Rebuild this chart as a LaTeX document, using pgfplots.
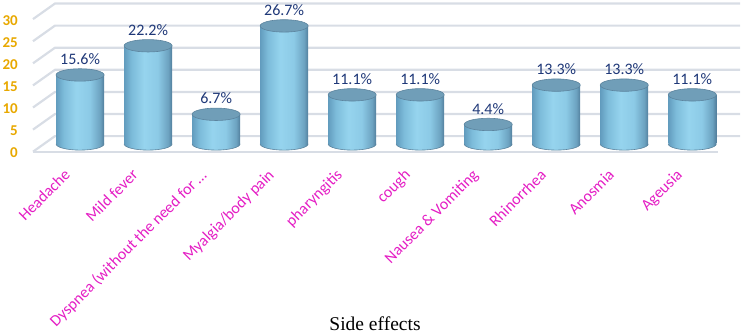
\documentclass[border=0pt]{standalone}
\usepackage{fontspec}
\setmainfont{Carlito}
\newfontfamily\timesfont{Liberation Serif}
\usepackage{pgfplots}
\usepackage{pgfplotstable}
\pgfplotsset{compat=1.18}

\definecolor{gridc}{RGB}{216,221,229}
\definecolor{tickc}{RGB}{232,168,0}
\definecolor{labc}{RGB}{31,56,120}
\definecolor{magc}{RGB}{228,30,196}
\definecolor{cylA}{RGB}{98,156,190}
\definecolor{cylB}{RGB}{125,188,218}
\definecolor{cylC}{RGB}{150,212,238}
\definecolor{cylD}{RGB}{140,202,230}
\definecolor{cylE}{RGB}{108,162,192}
\definecolor{cylF}{RGB}{82,126,156}
\definecolor{cyltopc}{RGB}{112,158,184}
\definecolor{cyledge}{RGB}{92,132,158}

% side shading of the cylinders (left to right)
\pgfdeclarehorizontalshading{cylshade}{100bp}{color(0bp)=(cylA); color(25bp)=(cylA); color(33bp)=(cylB); color(46bp)=(cylC); color(60bp)=(cylD); color(71bp)=(cylE); color(75bp)=(cylF); color(100bp)=(cylF)}

% top cap of a cylinder
\pgfdeclareplotmark{cyltop}{%
  \pgfsetfillcolor{cyltopc}\pgfsetstrokecolor{cyledge}\pgfsetlinewidth{0.6pt}%
  \pgfpathellipse{\pgfpointorigin}{\pgfqpoint{24pt}{0pt}}{\pgfqpoint{0pt}{6.2pt}}%
  \pgfusepathqfillstroke}

% rounded base of a cylinder
\pgfdeclareplotmark{cylbottom}{%
  \pgfpathmoveto{\pgfqpoint{-24pt}{0pt}}%
  \pgfpatharc{180}{360}{24pt and 6.2pt}%
  \pgfpathclose
  \pgfshadepath{cylshade}{0}%
  \pgfusepath{discard}%
  \pgfsetstrokecolor{cyledge}\pgfsetlinewidth{0.6pt}%
  \pgfpathmoveto{\pgfqpoint{-24pt}{0pt}}%
  \pgfpatharc{180}{360}{24pt and 6.2pt}%
  \pgfusepathqstroke}

\pgfplotstableread{
x y base
0 15.6 0
1 22.2 0
2 6.7  0
3 26.7 0
4 11.1 0
5 11.1 0
6 4.4  0
7 13.3 0
8 13.3 0
9 11.1 0
}\sidetab

\begin{document}
\begin{tikzpicture}
\useasboundingbox (-44pt,-191.1pt) rectangle (700pt,143.9pt);
\begin{axis}[
  at={(0,0)}, anchor=south west,
  scale only axis, width=685pt, height=132.6pt,
  xmin=-0.53, xmax=9.54, ymin=0, ymax=30,
  clip=false,
  axis line style={draw=none},
  major tick length=0pt,
  tick style={draw=none},
  ytick={0,5,...,30},
  xtick={0,...,9},
  xticklabels={Headache, Mild fever, Dyspnea (without the need for …, Myalgia/body pain, pharyngitis, cough, Nausea \& Vomiting, Rhinorrhea, Anosmia, Ageusia},
  /pgf/number format/assume math mode=true,
  yticklabel style={font=\fontsize{15}{15}\selectfont\bfseries, text=tickc, anchor=east, inner sep=0pt, xshift=-26pt, yshift=-9pt},
  xticklabel style={font=\fontsize{16}{17}\selectfont, text=magc, inner sep=0pt, xshift=-17pt, yshift=-24pt, rotate=45, anchor=north east},
  xlabel={Side effects},
  xlabel style={font=\timesfont\fontsize{19.5}{20}\selectfont, at={(axis description cs:0.5,0)}, anchor=base, inner sep=0pt, xshift=-11.5pt, yshift=-187pt},
]
% side wall and back wall grid
\pgfplotsinvokeforeach{0,5,10,15,20,25,30}{
  \draw[gridc, line width=2.2pt, line join=round]
    ([shift={(-11pt,-7.8pt)}]axis cs:-0.53,#1) --
    ([shift={(11pt,7.8pt)}]axis cs:-0.53,#1) --
    ([shift={(11pt,7.8pt)}]axis cs:9.54,#1);
}
% front edge of the floor
\draw[gridc, line width=2.2pt]
  ([shift={(-11pt,-7.8pt)}]axis cs:-0.53,0) -- ([shift={(-11pt,-7.8pt)}]axis cs:9.54,0);

% cylinder bodies, one path each so every body gets its own shading
\pgfplotsinvokeforeach{0,...,9}{
  \addplot[ybar, bar width=48pt, bar shift=0pt, draw=none, shade, shading=cylshade, mark=none,
    restrict x to domain=#1:#1]
    table[x=x, y=y] \sidetab;
}
% bases
\addplot[only marks, mark=cylbottom] table[x=x, y=base] \sidetab;
% caps with value labels
\addplot[only marks, mark=cyltop,
  nodes near coords={\pgfmathprintnumber[fixed,fixed zerofill,precision=1]{\pgfplotspointmeta}\%},
  every node near coord/.append style={font=\fontsize{16}{16}\selectfont, text=labc, anchor=south, inner sep=0pt, yshift=10pt}]
  table[x=x, y=y] \sidetab;
\end{axis}
\end{tikzpicture}
\end{document}
